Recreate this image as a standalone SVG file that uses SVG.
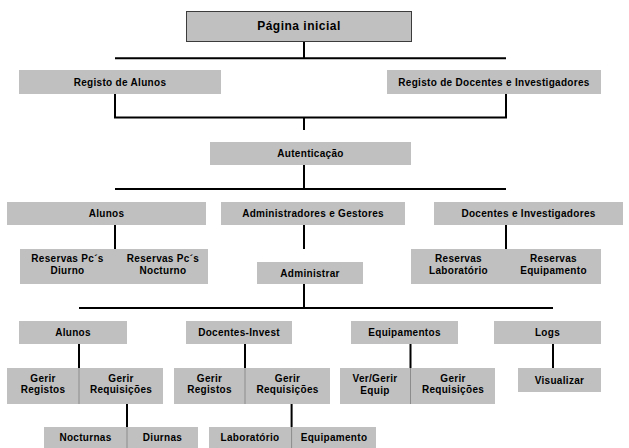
<svg xmlns="http://www.w3.org/2000/svg" width="629" height="448" viewBox="0 0 629 448">
<style>
.bg{fill:#ffffff}
.box{fill:#c0c0c0}
.top{fill:#c0c0c0;stroke:#3c3c3c;stroke-width:1}
.div{stroke:#8c8c8c;stroke-width:1;fill:none}
.con{stroke:#000;stroke-width:2;fill:none}
text{font-family:"Liberation Sans",Arial,sans-serif;font-weight:bold;font-size:10px;letter-spacing:0.3px;fill:#000;text-anchor:middle}
.big{font-size:12px;letter-spacing:0.5px}
</style>
<rect class="bg" x="0" y="0" width="629" height="448"/>

<g id="connectors">
<path class="con" d="M304,41.7V58.3M115,58.3H506"/>
<path class="con" d="M115,94V117.5H506V94M304,117.5V130"/>
<path class="con" d="M304,165V189M115,189H506"/>
<path class="con" d="M115,225V249M304,225V249M506,225V249"/>
<path class="con" d="M304,284V308M79,308H553"/>
<path class="con" d="M79,344V368M245,344V368M410.5,344V368M553,344V368"/>
<path class="con" d="M127,404V427M291.6,404V427"/>
</g>

<g id="pagina-inicial">
<rect class="top" x="186.5" y="11.5" width="225" height="30"/>
<text class="big" x="299" y="30">Página inicial</text>
</g>

<g id="registo-alunos">
<rect class="box" x="19" y="70" width="202" height="24"/>
<text x="120" y="86">Registo de Alunos</text>
</g>
<g id="registo-docentes">
<rect class="box" x="387" y="70" width="214" height="24"/>
<text x="494" y="86">Registo de Docentes e Investigadores</text>
</g>

<g id="autenticacao">
<rect class="box" x="210" y="142" width="201" height="23"/>
<text x="310.5" y="157">Autenticação</text>
</g>

<g id="alunos">
<rect class="box" x="7" y="202" width="199" height="23"/>
<text x="106.5" y="217">Alunos</text>
</g>
<g id="administradores">
<rect class="box" x="221" y="202" width="184" height="23"/>
<text x="313" y="217">Administradores e Gestores</text>
</g>
<g id="docentes">
<rect class="box" x="434" y="202" width="189" height="23"/>
<text x="528.5" y="217">Docentes e Investigadores</text>
</g>

<g id="reservas-pcs">
<rect class="box" x="20" y="249" width="188" height="35"/>
<text x="67.5" y="262">Reservas Pc´s</text>
<text x="67.5" y="273.5">Diurno</text>
<text x="163" y="262">Reservas Pc´s</text>
<text x="163" y="273.5">Nocturno</text>
</g>
<g id="administrar">
<rect class="box" x="257" y="262" width="106" height="22"/>
<text x="310" y="276.5">Administrar</text>
</g>
<g id="reservas-lab-equip">
<rect class="box" x="411" y="249" width="190" height="35"/>
<text x="458.5" y="262">Reservas</text>
<text x="458.5" y="273.5">Laboratório</text>
<text x="553.5" y="262">Reservas</text>
<text x="553.5" y="273.5">Equipamento</text>
</g>

<g id="adm-alunos">
<rect class="box" x="19" y="321" width="108" height="23"/>
<text x="73" y="336">Alunos</text>
</g>
<g id="adm-docentes-invest">
<rect class="box" x="186" y="321" width="106" height="23"/>
<text x="239" y="336">Docentes-Invest</text>
</g>
<g id="adm-equipamentos">
<rect class="box" x="351" y="321" width="107" height="23"/>
<text x="404.5" y="336">Equipamentos</text>
</g>
<g id="adm-logs">
<rect class="box" x="494" y="321" width="107" height="23"/>
<text x="547.5" y="336">Logs</text>
</g>

<g id="gerir-alunos">
<rect class="box" x="7" y="368" width="156" height="36"/>
<path class="div" d="M79,368V404"/>
<text x="43" y="381.5">Gerir</text>
<text x="43" y="393">Registos</text>
<text x="121" y="381.5">Gerir</text>
<text x="121" y="393">Requisições</text>
</g>
<g id="gerir-docentes">
<rect class="box" x="174" y="368" width="156" height="36"/>
<path class="div" d="M245,368V404"/>
<text x="209.5" y="381.5">Gerir</text>
<text x="209.5" y="393">Registos</text>
<text x="287.5" y="381.5">Gerir</text>
<text x="287.5" y="393">Requisições</text>
</g>
<g id="gerir-equipamentos">
<rect class="box" x="340" y="368" width="155" height="36"/>
<path class="div" d="M410.5,368V404"/>
<text x="375" y="381.5">Ver/Gerir</text>
<text x="375" y="394">Equip</text>
<text x="453" y="381.5">Gerir</text>
<text x="453" y="393">Requisições</text>
</g>
<g id="visualizar">
<rect class="box" x="518" y="368" width="83" height="24"/>
<text x="559.5" y="383.5">Visualizar</text>
</g>

<g id="requisicoes-alunos">
<rect class="box" x="44" y="427" width="154" height="21"/>
<path class="div" d="M127,427V448"/>
<text x="85.5" y="441">Nocturnas</text>
<text x="162.5" y="441">Diurnas</text>
</g>
<g id="requisicoes-docentes">
<rect class="box" x="209" y="427" width="167" height="21"/>
<path class="div" d="M291.6,427V448"/>
<text x="250" y="441">Laboratório</text>
<text x="334" y="441">Equipamento</text>
</g>
</svg>
